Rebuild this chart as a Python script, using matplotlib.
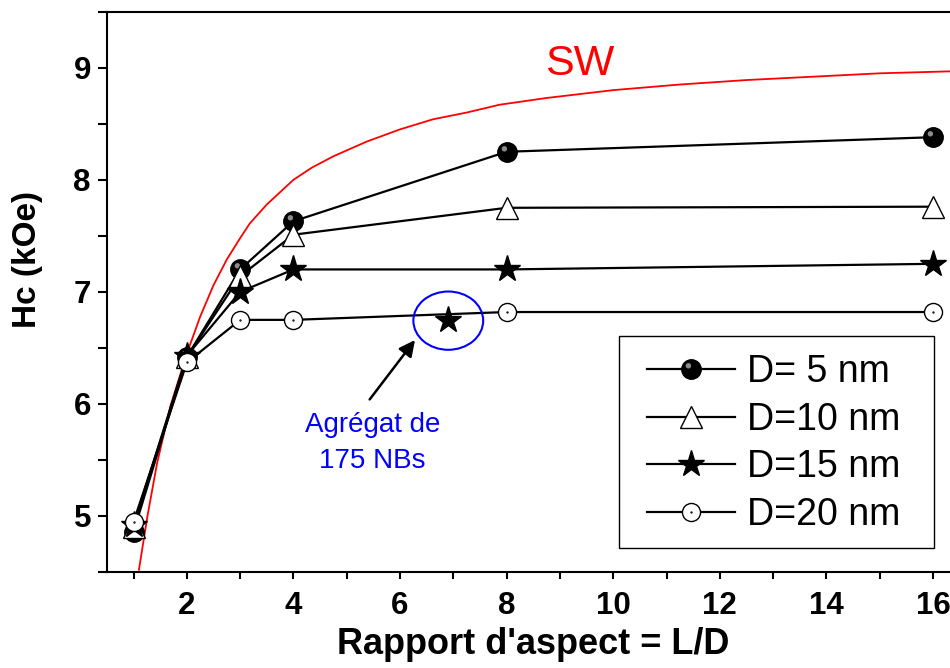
import numpy as np
import matplotlib
matplotlib.use("Agg")
import matplotlib.pyplot as plt
from matplotlib.path import Path
from matplotlib.patches import Ellipse, Rectangle
from matplotlib.legend_handler import HandlerTuple
from matplotlib.ticker import MultipleLocator

plt.rcParams['font.family'] = ['Liberation Sans', 'DejaVu Sans']

# ── données ──
ld = [1, 2, 3, 4, 8, 16]
hc_d5 = [4.86, 6.42, 7.20, 7.63, 8.25, 8.38]
hc_d10 = [4.90, 6.42, 7.14, 7.51, 7.75, 7.76]
hc_d15 = [4.92, 6.43, 7.00, 7.20, 7.20, 7.25]
hc_d20 = [4.95, 6.37, 6.75, 6.75, 6.82, 6.82]

# agrégat de 175 NBs
agg_x = [6.9]
agg_y = [6.75]

# courbe SW (Stoner-Wohlfarth)
sw_x = [1.10, 1.26, 1.44, 1.69, 2.00, 2.25, 2.50, 2.75, 3.00, 3.18, 3.50,
        4.00, 4.35, 4.75, 5.37, 6.00, 6.62, 7.25, 7.87, 8.75, 10.0, 11.25,
        12.5, 13.75, 15.0, 16.5]
sw_y = [4.52, 5.00, 5.47, 5.98, 6.45, 6.78, 7.06, 7.29, 7.48, 7.61, 7.78,
        8.00, 8.11, 8.21, 8.34, 8.45, 8.54, 8.60, 8.67, 8.73, 8.80, 8.85,
        8.89, 8.92, 8.95, 8.97]

labels = ["D= 5 nm", "D=10 nm", "D=15 nm", "D=20 nm"]

# ── marqueurs spéciaux ──
# reflet gris de la sphère (le point (0.5,0.5) fixe l'échelle du marqueur)
hl = Path.circle(center=(-0.16, 0.19), radius=0.14)
highlight = Path(np.vstack([[[0.5, 0.5]], hl.vertices]),
                 [Path.MOVETO] + list(hl.codes))
# cercle ouvert avec point central
dot_circle = Path.make_compound_path(Path.circle((0, 0), 1.0),
                                     Path.circle((0, 0), 0.05))

fig = plt.figure(figsize=(9.5, 6.68), dpi=100)
ax = fig.add_axes([0.1126, 0.1437, 0.8975, 0.8388])

ax.plot(sw_x, sw_y, color="red", lw=1.3, zorder=2)

l5, = ax.plot(ld, hc_d5, color="black", lw=1.6, marker="o", ms=14,
              mfc="black", mec="black", zorder=3)
h5, = ax.plot(ld, hc_d5, ls="none", marker=highlight, ms=14,
              mfc="#8c8c8c", mec="none", mew=0, zorder=3.1)
l10, = ax.plot(ld, hc_d10, color="black", lw=1.6, marker="^", ms=16,
               mfc="white", mec="black", mew=1, zorder=4)
l15, = ax.plot(ld, hc_d15, color="black", lw=1.6, marker="*", ms=20,
               mfc="black", mec="black", mew=1, zorder=5)
l20, = ax.plot(ld, hc_d20, color="black", lw=1.6, marker=dot_circle, ms=13,
               mfc="white", mec="black", mew=1, zorder=6)

ax.plot(agg_x, agg_y, ls="none", marker="*", ms=20, mfc="black",
        mec="black", mew=1, zorder=5)

ax.add_patch(Ellipse((6.905, 6.743), 1.31, 0.52, fill=False,
                     edgecolor="blue", lw=1.5, zorder=7))
ax.annotate("", xy=(6.28, 6.57), xytext=(5.43, 6.04),
            arrowprops=dict(arrowstyle="-|>", color="black", lw=1.8,
                            mutation_scale=24, shrinkA=0, shrinkB=0))
ax.text(5.48, 5.65, "Agrégat de\n175 NBs", color="blue", fontsize=20,
        ha="center", va="center", linespacing=1.47)
ax.text(9.38, 9.03, "SW", color="red", fontsize=31, ha="center", va="center")

ax.set_xlim(0.5, 16.5)
ax.set_ylim(4.5, 9.5)
ax.xaxis.set_major_locator(MultipleLocator(2))
ax.xaxis.set_minor_locator(MultipleLocator(1))
ax.yaxis.set_major_locator(MultipleLocator(1))
ax.yaxis.set_minor_locator(MultipleLocator(0.5))
ax.tick_params(axis="x", which="both", direction="out", length=5, width=1.5,
               pad=9, labelsize=22.5)
ax.tick_params(axis="y", which="both", direction="out", length=6.5, width=1.5,
               pad=5, labelsize=22.5)
for lab in ax.get_xticklabels() + ax.get_yticklabels():
    lab.set_fontweight("bold")
for s in ax.spines.values():
    s.set_linewidth(1.5)
ax.spines["right"].set_visible(False)

ax.set_xlabel("Rapport d'aspect = L/D", fontsize=26, fontweight="bold",
              labelpad=4)
ax.set_ylabel("Hc (kOe)", fontsize=24, fontweight="bold")
ax.yaxis.set_label_coords(-0.075, 0.557)

# légende (cadre dessiné à part)
ax.add_patch(Rectangle((0.6005, 0.0428), 0.3695, 0.3782, transform=ax.transAxes,
                       fill=True, facecolor="white", edgecolor="black",
                       lw=1.0, zorder=8))
leg = ax.legend([(l5, h5), l10, l15, l20], labels,
                handler_map={tuple: HandlerTuple(ndivide=1)},
                loc="upper left", bbox_to_anchor=(0.6334, 0.389),
                frameon=False, borderpad=0, borderaxespad=0,
                fontsize=27, handlelength=2.35, handletextpad=0.32,
                labelspacing=0.31)
leg.set_zorder(9)

fig.savefig("out.png", dpi=100)
